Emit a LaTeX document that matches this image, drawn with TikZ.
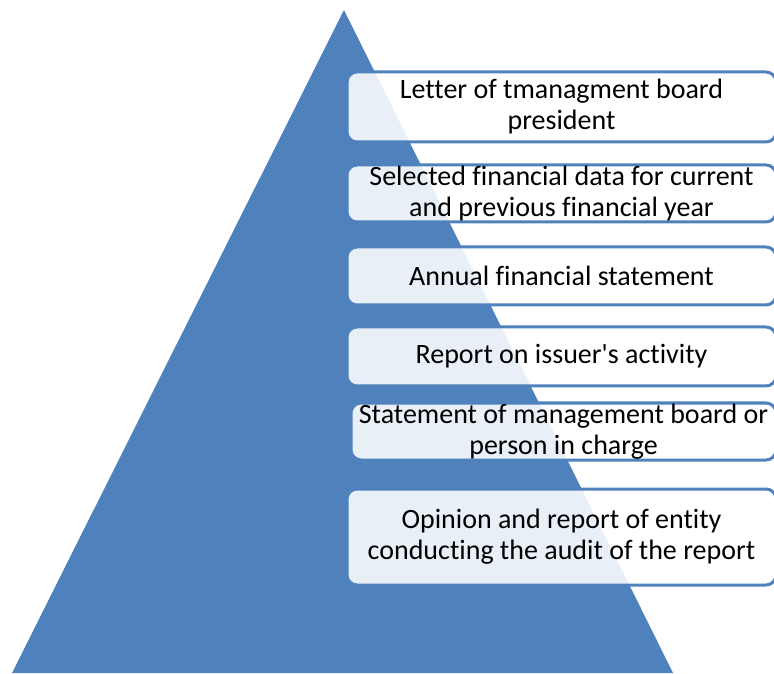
\documentclass[tikz,border=0pt]{standalone}
\usepackage{fontspec}
\setmainfont{Carlito}[Ligatures={NoCommon}]
\definecolor{pyrblue}{HTML}{4F81BD}

\begin{document}
\begin{tikzpicture}[x=1pt, y=1pt,
    level/.style={draw=pyrblue, line width=3pt, rounded corners=10pt,
        fill=white, fill opacity=0.88, text opacity=1,
        minimum width=429pt, inner sep=0pt, align=center,
        font=\fontsize{28}{31}\selectfont}]
        \useasboundingbox (0, 0) rectangle (774, 673);
        \clip (0, 0) rectangle (774, 673);
        % pyramid
        \fill [pyrblue] (12, 0) -- (344, 663) -- (673, 0) -- cycle;
        % report parts, top to bottom
        \node [level, minimum height=70pt] (letter) at (561.5, 566) {Letter of tmanagment board\\president};
        \node [level, minimum height=57pt] (selected) at (561.5, 479.5) {Selected financial data for current\\and previous financial year};
        \node [level, minimum height=58pt] (annual) at (561.5, 397) {Annual financial statement};
        \node [level, minimum height=59pt] (activity) at (561.5, 316.5) {Report on issuer\textquotesingle s activity};
        \node [level, minimum height=57pt, minimum width=425pt] (statement) at (563.5, 241.5) {Statement of management board or\\person in charge};
        \node [level, minimum height=96pt] (opinion) at (561.5, 136) {Opinion and report of entity\\conducting the audit of the report};
    \end{tikzpicture}
\end{document}
